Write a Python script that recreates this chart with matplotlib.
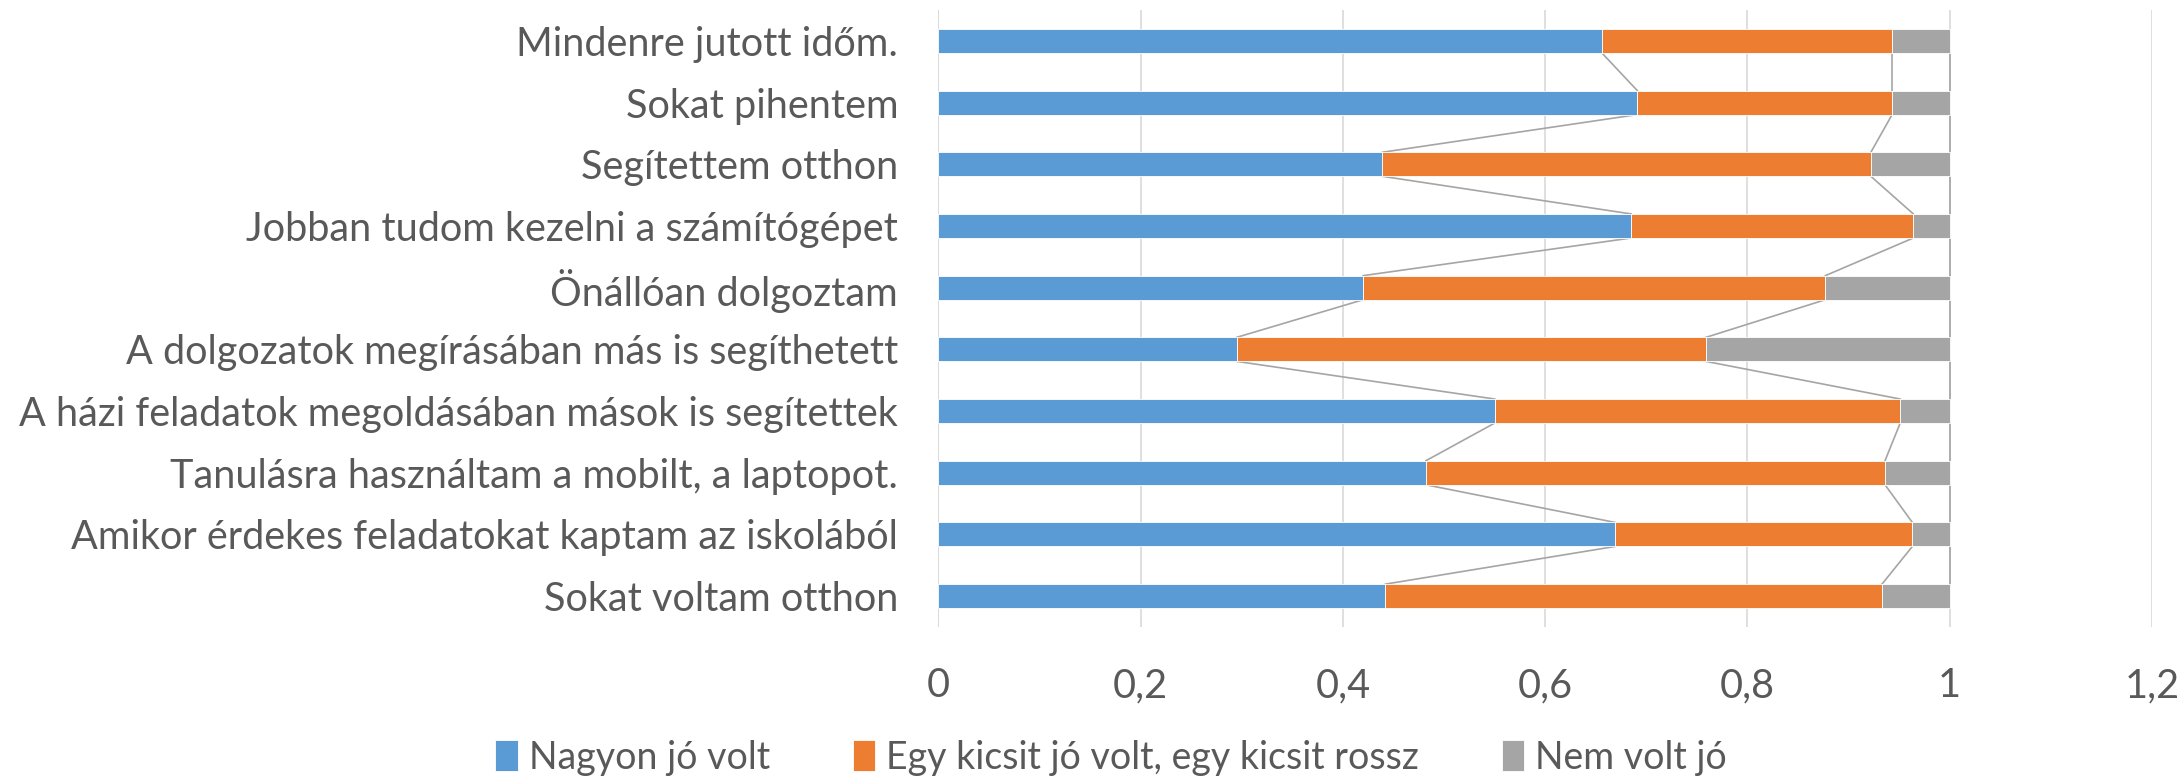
import matplotlib
matplotlib.use("Agg")
import matplotlib.pyplot as plt
import numpy as np

plt.rcParams['font.family'] = ['Lato', 'DejaVu Sans']

# categories, bottom to top
categories = [
    "Sokat voltam otthon",
    "Amikor érdekes feladatokat kaptam az iskolából",
    "Tanulásra használtam a mobilt, a laptopot.",
    "A házi feladatok megoldásában mások is segítettek",
    "A dolgozatok megírásában más is segíthetett",
    "Önállóan dolgoztam",
    "Jobban tudom kezelni a számítógépet",
    "Segítettem otthon",
    "Sokat pihentem",
    "Mindenre jutott időm.",
]
nagyon_jo = [0.442, 0.669, 0.482, 0.550, 0.295, 0.420, 0.685, 0.439, 0.691, 0.656]
egy_kicsit = [0.491, 0.294, 0.454, 0.401, 0.464, 0.457, 0.279, 0.483, 0.252, 0.287]
nem_volt = [1 - a - b for a, b in zip(nagyon_jo, egy_kicsit)]

series_names = ["Nagyon jó volt", "Egy kicsit jó volt, egy kicsit rossz", "Nem volt jó"]
colors = ["#5B9BD5", "#ED7D31", "#A5A5A5"]
text_col = "#595959"
fs = 28.5

fig = plt.figure(figsize=(21.83, 7.78), dpi=100)
ax = fig.add_axes([0.4299, 0.1941, 0.9858 - 0.4299, 0.9871 - 0.1941])

y = np.arange(len(categories))
h = 0.39
left = np.zeros(len(categories))
cums = []
for vals, name, c in zip([nagyon_jo, egy_kicsit, nem_volt], series_names, colors):
    ax.barh(y, vals, height=h, left=left, color=c, label=name,
            edgecolor="white", linewidth=0.6, zorder=3)
    left = left + np.array(vals)
    cums.append(left.copy())

# series lines between adjacent bars
for cum in cums:
    for i in range(len(categories) - 1):
        ax.plot([cum[i], cum[i + 1]], [i + h / 2, i + 1 - h / 2],
                color="#A5A5A5", linewidth=1.2, zorder=2)

ax.set_xlim(0, 1.2)
ax.set_ylim(-0.5, len(categories) - 0.5)
ax.set_yticks(y)
ax.set_yticklabels(categories)
xt = np.arange(0, 1.21, 0.2)
ax.set_xticks(xt)
ax.set_xticklabels([("%g" % round(v, 1)).replace(".", ",") for v in xt])
ax.tick_params(axis="both", length=0, labelsize=fs, labelcolor=text_col)
ax.tick_params(axis="y", pad=29)
ax.tick_params(axis="x", pad=29)
ax.grid(axis="x", color="#D9D9D9", linewidth=1.2, zorder=0)
ax.set_axisbelow(True)
for s in ax.spines.values():
    s.set_visible(False)
ax.axvline(0, color="#D9D9D9", linewidth=1.2, zorder=1)

fig.legend(loc="center", bbox_to_anchor=(0.509, 0.026), ncol=3, frameon=False,
           fontsize=27, labelcolor=text_col, handlelength=0.6, handleheight=0.9,
           handletextpad=0.3, columnspacing=2.2, borderpad=0)

fig.savefig("out.png", dpi=100)
